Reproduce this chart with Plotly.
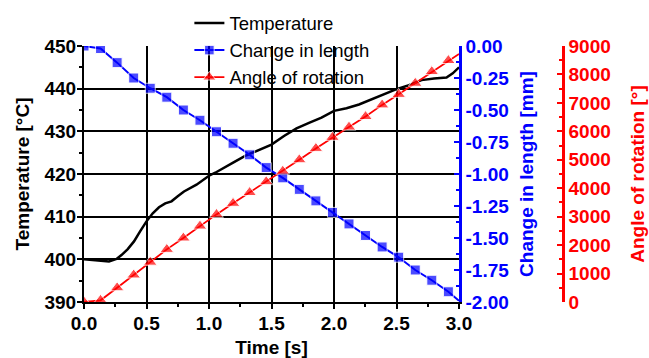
import plotly.graph_objects as go

# ---- data ----
marker_time = [0.0, 0.1325, 0.265, 0.3975, 0.53, 0.6625, 0.795, 0.9275, 1.06, 1.1925,
               1.325, 1.4575, 1.59, 1.7225, 1.855, 1.9875, 2.12, 2.2525, 2.385, 2.5175,
               2.65, 2.7825, 2.915, 3.0]
length_mm = [0.00, -0.02, -0.13, -0.25, -0.33, -0.40, -0.50, -0.58, -0.67, -0.76,
             -0.85, -0.95, -1.03, -1.12, -1.21, -1.30, -1.39, -1.48, -1.57, -1.65,
             -1.75, -1.83, -1.92, -1.99]
angle_deg = [0, 60, 500, 950, 1400, 1850, 2250, 2670, 3080, 3470,
             3850, 4230, 4600, 5000, 5400, 5790, 6150, 6520, 6930, 7300,
             7690, 8100, 8490, 8720]

temp_time = [0.0, 0.1, 0.2, 0.26, 0.3, 0.35, 0.4, 0.45, 0.5, 0.55, 0.6, 0.65, 0.7, 0.75,
             0.8, 0.9, 1.0, 1.05, 1.1, 1.2, 1.3, 1.4, 1.5, 1.6, 1.7, 1.8, 1.9, 2.0,
             2.1, 2.2, 2.3, 2.4, 2.5, 2.6, 2.7, 2.8, 2.9, 2.95, 3.0]
temperature = [400.0, 399.8, 399.5, 400.1, 401.0, 402.4, 404.2, 406.6, 408.9, 410.8,
               412.2, 413.1, 413.6, 414.8, 415.9, 417.5, 419.6, 420.3, 421.2, 422.8,
               424.4, 425.6, 426.9, 428.9, 430.7, 432.0, 433.2, 434.8, 435.4, 436.3,
               437.5, 438.8, 439.9, 440.8, 442.0, 442.4, 442.6, 443.6, 445.0]

x_ticks = [0.0, 0.5, 1.0, 1.5, 2.0, 2.5, 3.0]
x_labels = ["0.0", "0.5", "1.0", "1.5", "2.0", "2.5", "3.0"]
temp_ticks = [390, 400, 410, 420, 430, 440, 450]
len_ticks = [0.0, -0.25, -0.5, -0.75, -1.0, -1.25, -1.5, -1.75, -2.0]
len_labels = ["0.00", "-0.25", "-0.50", "-0.75", "-1.00", "-1.25", "-1.50", "-1.75", "-2.00"]
ang_ticks = [0, 1000, 2000, 3000, 4000, 5000, 6000, 7000, 8000, 9000]

# ---- figure ----
FONT = "Liberation Sans, Arial, sans-serif"
BLUE = "#0000FF"
RED = "#FF0000"
n = len(marker_time)

fig = go.Figure()
fig.add_trace(go.Scatter(x=temp_time, y=temperature, name="Temperature", mode="lines",
                         line=dict(color="black", width=2.5), yaxis="y"))
fig.add_trace(go.Scatter(x=marker_time, y=length_mm, name="Change in length", mode="lines+markers",
                         line=dict(color=BLUE, width=2),
                         marker=dict(symbol="square", size=[10] * (n - 1) + [0], color=BLUE),
                         yaxis="y2"))
fig.add_trace(go.Scatter(x=marker_time, y=angle_deg, name="Angle of rotation", mode="lines+markers",
                         line=dict(color=RED, width=1.8),
                         marker=dict(symbol="triangle-up", size=[12] * (n - 1) + [0], color=RED),
                         yaxis="y3"))

xdom = 375 / 479
fig.update_layout(
    width=649, height=358,
    margin=dict(l=84, r=86, t=46, b=56, autoexpand=False),
    paper_bgcolor="white", plot_bgcolor="white",
    font=dict(family=FONT, size=19, color="black"),
    showlegend=True,
    legend=dict(x=0.22, y=1.162, xanchor="left", yanchor="top", bgcolor="rgba(0,0,0,0)",
                font=dict(size=18.5, family=FONT, color="black"), borderwidth=0),
    xaxis=dict(domain=[0, xdom], range=[0, 3.0], tickvals=x_ticks, ticktext=x_labels,
               showline=True, linecolor="black", linewidth=2, ticks="outside", ticklen=5,
               tickwidth=2, tickcolor="black", showgrid=True, gridcolor="black", gridwidth=1.5,
               zeroline=False, ticklabelstandoff=-2, tickfont=dict(size=19, family=FONT, weight="bold"),
               minor=dict(dtick=0.25, ticks="outside", ticklen=3, tickwidth=1.5, tickcolor="black", showgrid=False),
               title=dict(text="<b>Time [s]</b>", standoff=10, font=dict(size=19, family=FONT)),
               automargin=False),
    yaxis=dict(range=[390, 450], tickvals=temp_ticks, showline=True, linecolor="black", linewidth=2,
               ticks="outside", ticklen=5, tickwidth=2, tickcolor="black", showgrid=True,
               gridcolor="black", gridwidth=1.5, zeroline=False, ticklabelstandoff=-3,
               tickfont=dict(size=19, family=FONT, weight="bold"),
               minor=dict(dtick=5, ticks="outside", ticklen=3, tickwidth=1.5, tickcolor="black", showgrid=False),
               title=dict(text="<b>Temperature [°C]</b>", standoff=10, font=dict(size=19, family=FONT)),
               automargin=False),
    yaxis2=dict(range=[-2.0, 0.0], overlaying="y", side="right", anchor="x", tickvals=len_ticks,
                ticktext=len_labels, showline=True, linecolor=BLUE, linewidth=2.5, ticks="inside",
                ticklen=5, tickwidth=2, tickcolor=BLUE, showgrid=False, zeroline=False,
                tickfont=dict(size=19, family=FONT, color=BLUE, weight="bold"),
                minor=dict(dtick=0.125, ticks="inside", ticklen=3, tickwidth=1.5, tickcolor=BLUE, showgrid=False),
                title=dict(text="<b>Change in length [mm]</b>", standoff=12,
                           font=dict(size=19, family=FONT, color=BLUE)),
                automargin=False),
    yaxis3=dict(range=[0, 9000], overlaying="y", side="right", anchor="free", position=1.0,
                tickvals=ang_ticks, showline=True, linecolor=RED, linewidth=2.5, ticks="inside",
                ticklen=5, tickwidth=2, tickcolor=RED, showgrid=False, zeroline=False,
                tickfont=dict(size=19, family=FONT, color=RED, weight="bold"),
                minor=dict(dtick=500, ticks="inside", ticklen=3, tickwidth=1.5, tickcolor=RED, showgrid=False),
                title=dict(text="<b>Angle of rotation [°]</b>", standoff=20,
                           font=dict(size=19, family=FONT, color=RED)),
                automargin=False),
    shapes=[
        # white panel behind the legend (hides grid lines there)
        dict(type="rect", xref="paper", yref="paper", x0=(173 - 84) / 479, x1=(377 - 84) / 479,
             y0=(302 - 90) / 256, y1=1.0, fillcolor="white", line=dict(width=0), layer="between"),
        # hide the grid line that falls on the top edge
        dict(type="rect", xref="paper", yref="paper", x0=0.005, x1=xdom - 0.005,
             y0=1.0 - 1.2 / 256, y1=1.0 + 1.5 / 256, fillcolor="white", line=dict(width=0), layer="between"),
    ],
)

fig.write_html("out.html", post_script="document.body.style.margin='0px';",
               config={"displayModeBar": False})
